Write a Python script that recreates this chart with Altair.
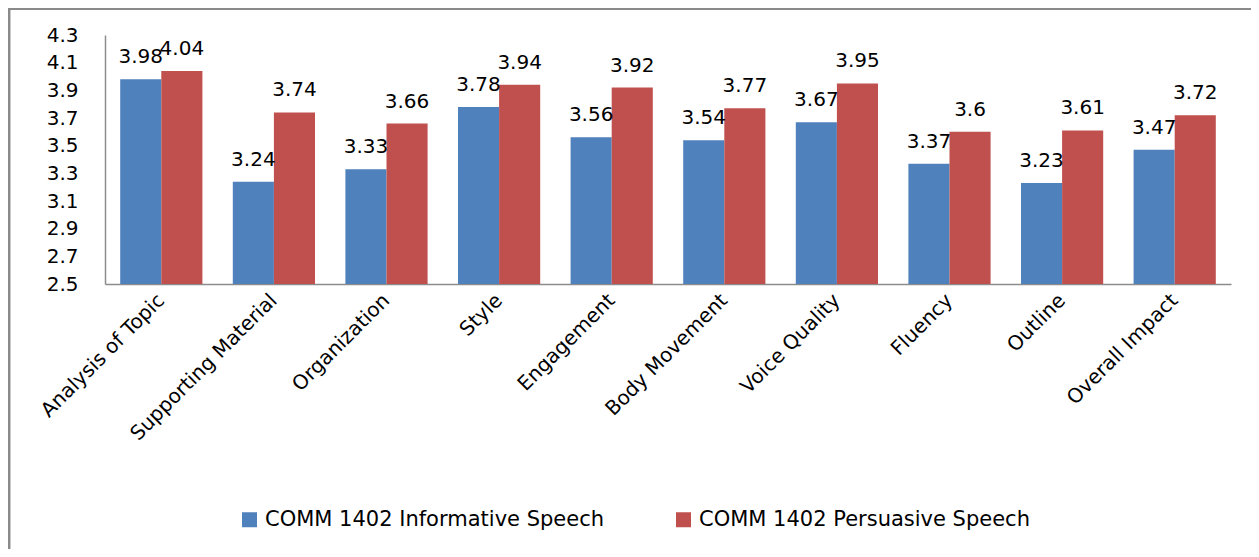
import altair as alt
import pandas as pd

categories = ["Analysis of Topic", "Supporting Material", "Organization", "Style",
              "Engagement", "Body Movement", "Voice Quality", "Fluency", "Outline",
              "Overall Impact"]
informative = [3.98, 3.24, 3.33, 3.78, 3.56, 3.54, 3.67, 3.37, 3.23, 3.47]
persuasive = [4.04, 3.74, 3.66, 3.94, 3.92, 3.77, 3.95, 3.6, 3.61, 3.72]
series = ["COMM 1402 Informative Speech", "COMM 1402 Persuasive Speech"]
y_ticks = [2.5, 2.7, 2.9, 3.1, 3.3, 3.5, 3.7, 3.9, 4.1, 4.3]

rows = []
for c, a, b in zip(categories, informative, persuasive):
    rows.append({"cat": c, "series": series[0], "value": a, "label": f"{a:g}"})
    rows.append({"cat": c, "series": series[1], "value": b, "label": f"{b:g}"})
df = pd.DataFrame(rows)

FONT = "DejaVu Sans"
W, H = 1126, 249
PAD_L, PAD_T = 97, 27
TOTAL_W, TOTAL_H = 1243, 541

x = alt.X("cat:N", sort=categories, title=None,
          scale=alt.Scale(paddingInner=0.27, paddingOuter=0.135),
          axis=alt.Axis(labelAngle=-45, labelAlign="right", labelBaseline="middle",
                        labelFontSize=20, labelFont=FONT, labelColor="#000",
                        labelPadding=13, ticks=False, domainColor="#8c8c8c",
                        domainWidth=1.5, labelLimit=400))
xo = alt.XOffset("series:N", sort=series)
y = alt.Y("value:Q", title=None,
          scale=alt.Scale(domain=[2.5, 4.3], zero=False, nice=False),
          axis=alt.Axis(values=y_ticks, format=".1f", ticks=False, grid=False,
                        labelFontSize=20, labelFont=FONT, labelColor="#000",
                        labelPadding=27, domainColor="#8c8c8c", domainWidth=1.5))

base = alt.Chart(df)

bars = base.mark_bar(clip=True).encode(
    x=x, xOffset=xo, y=y, y2=alt.datum(2.5),
    color=alt.Color("series:N", sort=series,
                    scale=alt.Scale(domain=series, range=["#4F81BD", "#C0504D"]),
                    legend=alt.Legend(title=None, orient="none", direction="horizontal",
                                      legendX=134, legendY=474, symbolType="square",
                                      symbolSize=225, symbolStrokeWidth=0,
                                      labelFont=FONT, labelFontSize=21,
                                      labelColor="#000", columnPadding=68,
                                      symbolOffset=0, labelOffset=5, labelLimit=500)),
)

texts = base.mark_text(baseline="alphabetic", dy=-16, fontSize=20, font=FONT,
                       color="#000").encode(
    x=x, xOffset=xo, y=y, text="label:N")

one = pd.DataFrame({"k": [0]})
frame_top = alt.Chart(one).mark_rule(color="#8a8a8a", strokeWidth=3).encode(
    x=alt.value(-PAD_L), x2=alt.value(TOTAL_W - PAD_L), y=alt.value(-PAD_T + 0.5))
frame_left = alt.Chart(one).mark_rule(color="#8a8a8a", strokeWidth=2.5).encode(
    x=alt.value(-PAD_L + 1.2), y=alt.value(-PAD_T), y2=alt.value(TOTAL_H - PAD_T))

chart = alt.layer(frame_top, frame_left, bars, texts).properties(
    width=W, height=H,
    autosize=alt.AutoSizeParams(type="none"),
    padding={"left": PAD_L, "top": PAD_T,
             "right": TOTAL_W - PAD_L - W, "bottom": TOTAL_H - PAD_T - H},
).configure_view(strokeWidth=0, stroke="transparent")

chart.save("out.html", embed_options={"renderer": "svg", "actions": False})
